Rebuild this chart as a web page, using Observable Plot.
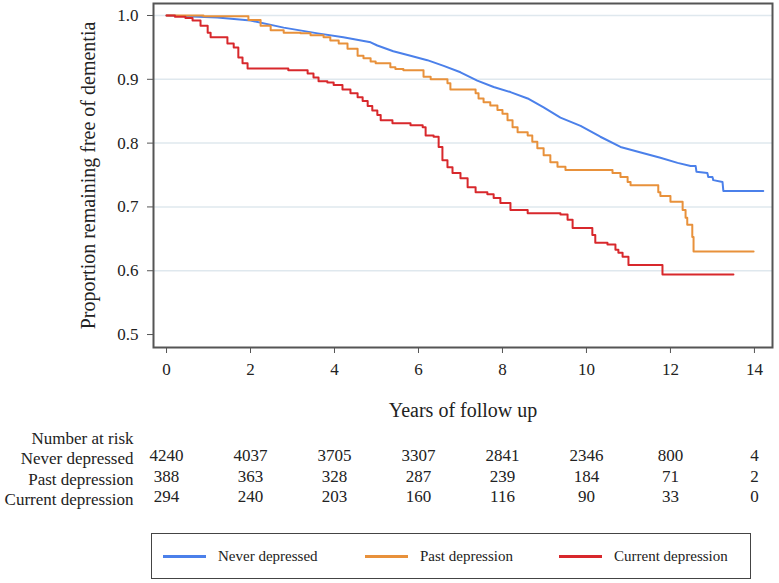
<!DOCTYPE html>
<html>
<head>
<meta charset="utf-8">
<script src="https://cdn.jsdelivr.net/npm/d3@7"></script>
<script src="https://cdn.jsdelivr.net/npm/@observablehq/plot@0.6"></script>
<style>
  html, body { margin: 0; padding: 0; background: #fff; }
  #wrap { position: relative; width: 779px; height: 583px; font-family: "Liberation Serif", "Times New Roman", serif; color: #222; }
  #chart svg, #chart svg text { font-family: "Liberation Serif", "Times New Roman", serif !important; }
  #legend { position: absolute; left: 151px; top: 533px; width: 600px; height: 46px; border: 1.5px solid #444; box-sizing: border-box; }
  .item { position: absolute; top: 0; height: 100%; display: flex; align-items: center; font-size: 15px; }
  .sw { display: inline-block; width: 43px; height: 3px; margin-right: 12px; }
</style>
</head>
<body>
<div id="wrap"><div id="chart"></div><div id="legend"></div></div>
<script>
// ---- Data ----
const groups = ["Never depressed", "Past depression", "Current depression"];
const colors = ["#4b80ea", "#e8913b", "#d8282c"];

// Never depressed: [years, proportion]
const neverDepressed = [
  [0, 1.0], [1.21, 0.997], [2.0, 0.992], [2.79, 0.981], [3.6, 0.972], [4.21, 0.966],
  [4.86, 0.958], [5.02, 0.953], [5.4, 0.944], [5.81, 0.937], [6.21, 0.930], [6.6, 0.921],
  [7.0, 0.911], [7.4, 0.898], [7.79, 0.888], [8.19, 0.880], [8.6, 0.870], [8.98, 0.856],
  [9.38, 0.840], [9.86, 0.827], [10.33, 0.810], [10.81, 0.794], [11.36, 0.784], [11.76, 0.777],
  [12.17, 0.769], [12.48, 0.764], [12.6, 0.764], [12.62, 0.755], [12.88, 0.753], [12.9, 0.747],
  [13.0, 0.747], [13.02, 0.742], [13.24, 0.739], [13.26, 0.725], [14.21, 0.725]
];

// Past depression: [time of step, proportion after step]
const pastDepression = [
  [0, 1.0], [0.88, 0.999], [1.95, 0.993], [2.24, 0.984], [2.48, 0.977], [2.79, 0.973],
  [3.19, 0.972], [3.43, 0.969], [3.74, 0.966], [3.9, 0.961], [4.1, 0.956], [4.31, 0.948],
  [4.55, 0.937], [4.69, 0.933], [4.86, 0.928], [4.98, 0.925], [5.33, 0.919], [5.45, 0.916],
  [5.64, 0.914], [6.12, 0.904], [6.29, 0.900], [6.69, 0.894], [6.76, 0.884], [7.36, 0.878],
  [7.43, 0.870], [7.55, 0.864], [7.71, 0.859], [7.88, 0.852], [8.0, 0.846], [8.12, 0.836],
  [8.24, 0.825], [8.36, 0.817], [8.6, 0.812], [8.71, 0.802], [8.83, 0.792], [8.98, 0.781],
  [9.14, 0.770], [9.31, 0.763], [9.5, 0.758], [10.62, 0.753], [10.81, 0.747], [10.98, 0.739],
  [11.05, 0.734], [11.71, 0.723], [11.76, 0.717], [12.0, 0.708], [12.29, 0.695], [12.36, 0.683],
  [12.4, 0.672], [12.52, 0.653], [12.55, 0.630], [13.98, 0.630]
];

// Current depression: [time of step, proportion after step]
const currentDepression = [
  [0, 1.0], [0.2, 0.998], [0.45, 0.996], [0.62, 0.992], [0.81, 0.984], [0.98, 0.973],
  [1.05, 0.966], [1.45, 0.956], [1.6, 0.950], [1.71, 0.934], [1.81, 0.925], [1.93, 0.917],
  [2.9, 0.914], [3.36, 0.909], [3.5, 0.903], [3.62, 0.897], [3.83, 0.895], [3.98, 0.891],
  [4.19, 0.884], [4.38, 0.878], [4.55, 0.872], [4.67, 0.866], [4.79, 0.858], [4.9, 0.851],
  [5.02, 0.844], [5.1, 0.836], [5.38, 0.831], [5.81, 0.828], [6.1, 0.825], [6.17, 0.812],
  [6.36, 0.810], [6.48, 0.794], [6.57, 0.773], [6.69, 0.762], [6.81, 0.753], [7.0, 0.745],
  [7.17, 0.731], [7.36, 0.723], [7.64, 0.720], [7.79, 0.714], [7.95, 0.706], [8.19, 0.695],
  [8.6, 0.690], [9.38, 0.688], [9.55, 0.680], [9.67, 0.667], [10.14, 0.656], [10.21, 0.644],
  [10.5, 0.641], [10.69, 0.633], [10.76, 0.628], [10.86, 0.622], [11.0, 0.609], [11.81, 0.594],
  [13.5, 0.594]
];

// Number at risk
const riskYears = [0, 2, 4, 6, 8, 10, 12, 14];
const riskNever = [4240, 4037, 3705, 3307, 2841, 2346, 800, 4];
const riskPast = [388, 363, 328, 287, 239, 184, 71, 2];
const riskCurrent = [294, 240, 203, 160, 116, 90, 33, 0];

const yTicks = [0.5, 0.6, 0.7, 0.8, 0.9, 1.0];
const yGrid = [0.6, 0.7, 0.8, 0.9, 1.0];
const xTicks = [0, 2, 4, 6, 8, 10, 12, 14];

// ---- Build ----
const toRows = (arr) => arr.map(([t, s]) => ({t, s}));
const riskRow = (vals) => riskYears.map((yr, i) => ({yr, n: String(vals[i])}));
const fontFamily = "'Liberation Serif', 'Times New Roman', serif";

const rowLabel = (txt, dy) => Plot.text([txt], {
  frameAnchor: "bottom-left", dx: -20, dy, textAnchor: "end", fontSize: 17, fill: "#222"
});
const rowNums = (vals, dy) => Plot.text(riskRow(vals), {
  x: "yr", text: "n", frameAnchor: "bottom", dy, fontSize: 17, fill: "#222"
});

const chart = Plot.plot({
  width: 779,
  height: 520,
  marginLeft: 153,
  marginRight: 7,
  marginTop: 3,
  marginBottom: 173,
  style: {fontFamily, fontSize: "17px", color: "#222", background: "#fff"},
  x: {domain: [-0.31, 14.43]},
  y: {domain: [0.4797, 1.0188]},
  marks: [
    Plot.gridY(yGrid, {stroke: "#dfe8ee", strokeOpacity: 1, strokeWidth: 1.5}),
    Plot.line(toRows(neverDepressed), {x: "t", y: "s", stroke: colors[0], strokeWidth: 2, curve: "linear"}),
    Plot.line(toRows(pastDepression), {x: "t", y: "s", stroke: colors[1], strokeWidth: 2, curve: "step-after"}),
    Plot.line(toRows(currentDepression), {x: "t", y: "s", stroke: colors[2], strokeWidth: 2, curve: "step-after"}),
    Plot.frame({stroke: "#555", strokeWidth: 2}),
    Plot.axisY(yTicks, {
      tickFormat: d3.format(".1f"), tickSize: 6, tickPadding: 9, fontSize: 17,
      stroke: "#555", label: "Proportion remaining free of dementia", labelAnchor: "center",
      labelArrow: "none", labelOffset: 73
    }),
    Plot.axisX(xTicks, {
      tickSize: 6, tickPadding: 9, fontSize: 17, stroke: "#555",
      label: "Years of follow up", labelAnchor: "center", labelArrow: "none", labelOffset: 69
    }),
    rowLabel("Number at risk", 96),
    rowLabel("Never depressed", 116),
    rowLabel("Past depression", 137),
    rowLabel("Current depression", 157),
    rowNums(riskNever, 113),
    rowNums(riskPast, 134),
    rowNums(riskCurrent, 154)
  ]
});
// axis titles larger
chart.querySelectorAll("g[aria-label='y-axis label'] text, g[aria-label='x-axis label'] text")
  .forEach(t => t.setAttribute("font-size", "20"));
document.getElementById("chart").appendChild(chart);

// Legend
const legend = document.getElementById("legend");
const lx = [11, 213, 407];
groups.forEach((g, i) => {
  const item = document.createElement("div");
  item.className = "item";
  item.style.left = lx[i] + "px";
  const sw = document.createElement("span");
  sw.className = "sw";
  sw.style.background = colors[i];
  item.appendChild(sw);
  item.appendChild(document.createTextNode(g));
  legend.appendChild(item);
});
</script>
</body>
</html>
